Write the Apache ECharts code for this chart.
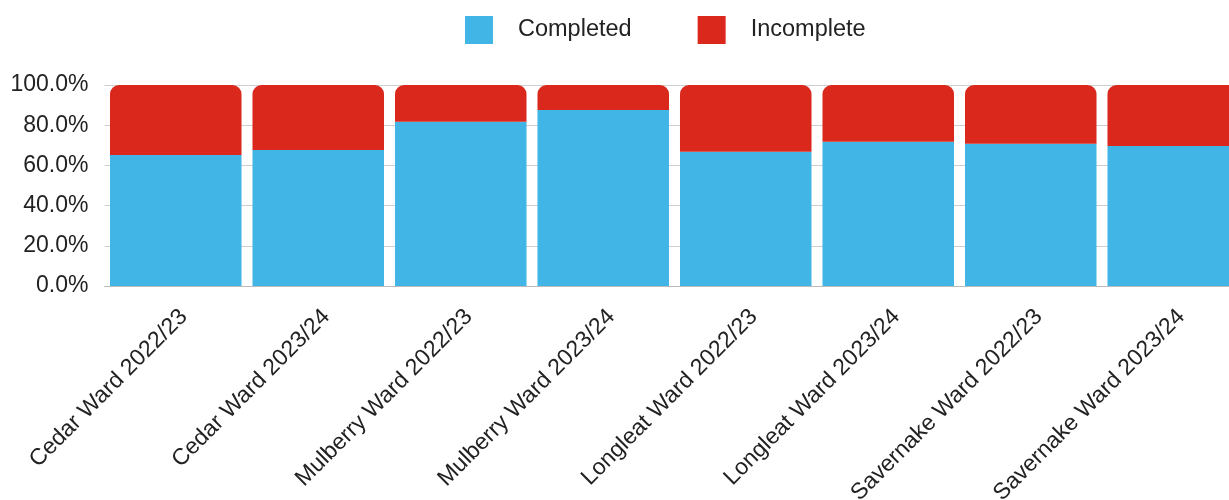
<!DOCTYPE html>
<html>
<head>
<meta charset="utf-8">
<script src="https://cdn.jsdelivr.net/npm/echarts@6/dist/echarts.min.js"></script>
<style>
html,body{margin:0;padding:0;background:#fff;}
#chart{width:1229px;height:500px;}
</style>
</head>
<body>
<div id="chart"></div>
<script>
const categories = ["Cedar Ward 2022/23","Cedar Ward 2023/24","Mulberry Ward 2022/23","Mulberry Ward 2023/24","Longleat Ward 2022/23","Longleat Ward 2023/24","Savernake Ward 2022/23","Savernake Ward 2023/24"];
const completed = [65.2, 67.7, 81.7, 87.6, 66.8, 71.8, 70.8, 69.7];
const incomplete = [34.8, 32.3, 18.3, 12.4, 33.2, 28.2, 29.2, 30.3];
const yTicks = [0, 20, 40, 60, 80, 100];

const chart = echarts.init(document.getElementById('chart'), null, {renderer: 'canvas'});
chart.setOption({
  animation: false,
  textStyle: {fontFamily: 'Liberation Sans, Arial, sans-serif'},
  legend: {
    left: 465, top: 16, padding: 0,
    itemWidth: 28, itemHeight: 28, itemGap: 66,
    icon: 'rect',
    textStyle: {fontSize: 23.5, color: '#222', padding: [0, 0, 0, 20]},
    data: ['Completed', 'Incomplete']
  },
  grid: {left: 104.5, width: 1140, top: 85, bottom: 214, containLabel: false, outerBoundsMode: 'none'},
  xAxis: {
    type: 'category',
    data: categories,
    axisTick: {show: false},
    axisLine: {lineStyle: {color: '#bbb', width: 1}},
    axisLabel: {rotate: 45, fontSize: 23, color: '#222', margin: 19, verticalAlign: 'top', interval: 0}
  },
  yAxis: {
    type: 'value',
    min: yTicks[0], max: yTicks[yTicks.length - 1], interval: 20,
    axisLine: {show: false},
    axisTick: {show: false},
    splitLine: {lineStyle: {color: '#cfcfcf', width: 1}},
    axisLabel: {fontSize: 23, color: '#222', margin: 16, formatter: v => v.toFixed(1) + '%'}
  },
  series: [
    {name: 'Completed', type: 'bar', stack: 'total', data: completed, barCategoryGap: '7.7%',
     itemStyle: {color: '#41B6E6'}},
    {name: 'Incomplete', type: 'bar', stack: 'total', data: incomplete, barCategoryGap: '7.7%',
     itemStyle: {color: '#DA291C', borderRadius: [9, 9, 0, 0]}}
  ]
});
</script>
</body>
</html>
